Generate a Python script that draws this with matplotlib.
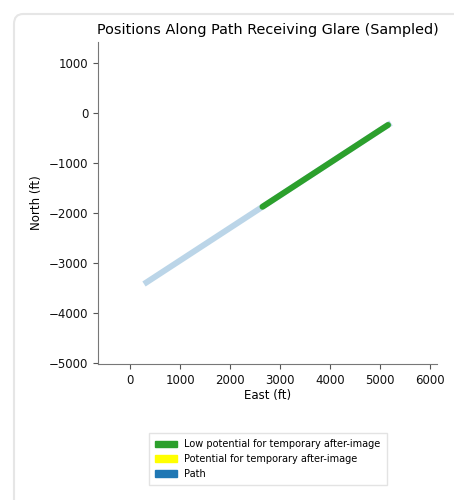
import matplotlib
matplotlib.use("Agg")
import matplotlib.pyplot as plt
from matplotlib.patches import Patch, FancyBboxPatch

# path end points (ft)
path_east = [280, 5220]
path_north = [-3420, -200]

# sampled positions receiving low-potential glare
low_east = [2650, 3000, 3500, 4000, 4500, 5000, 5160]
low_north = [-1875, -1647, -1321, -995, -669, -343, -240]

# no samples with potential for after-image
mid_east = []
mid_north = []

x_ticks = [0, 1000, 2000, 3000, 4000, 5000, 6000]
y_ticks = [1000, 0, -1000, -2000, -3000, -4000, -5000]

fig = plt.figure(figsize=(4.54, 5.0), dpi=100)

# card outline around the figure
card = FancyBboxPatch((14 / 454, -0.05), 1.0, 1.05 - 14 / 500,
                      boxstyle="round,pad=0,rounding_size=0.02",
                      transform=fig.transFigure, facecolor="white",
                      edgecolor="#e6e6e6", linewidth=1.5, zorder=-10)
fig.patches.append(card)

ax = fig.add_axes([98 / 454, 1 - 364 / 500, 339 / 454, 322 / 500])
ax.set_facecolor("none")

ax.plot(path_east, path_north, color="#1f77b4", alpha=0.3, lw=4.3,
        solid_capstyle="butt")
ax.plot(low_east, low_north, color="#2ca02c", lw=4.3, solid_capstyle="round")
if mid_east:
    ax.plot(mid_east, mid_north, color="yellow", lw=4.3)

ax.set_xlim(-640, 6140)
ax.set_ylim(-5020, 1420)
ax.set_xticks(x_ticks)
ax.set_yticks(y_ticks)
ax.tick_params(labelsize=8.5, colors="#111111", length=3.5)
ax.tick_params(axis="both", color="#555555")
for side in ["top", "right"]:
    ax.spines[side].set_visible(False)
for side in ["left", "bottom"]:
    ax.spines[side].set_color("#777777")

ax.set_xlabel("East (ft)", fontsize=8.5, labelpad=2)
ax.set_ylabel("North (ft)", fontsize=8.5)
ax.set_title("Positions Along Path Receiving Glare (Sampled)", fontsize=10.4, pad=6)

handles = [
    Patch(color="#2ca02c", label="Low potential for temporary after-image"),
    Patch(color="yellow", label="Potential for temporary after-image"),
    Patch(color="#1f77b4", label="Path"),
]
fig.legend(handles=handles, loc="center", bbox_to_anchor=(268 / 454, 1 - 459 / 500),
           fontsize=7, frameon=True, handlelength=2.2, handleheight=0.6,
           borderpad=0.6, labelspacing=0.5, fancybox=False, edgecolor="#dddddd")

fig.savefig("out.png", dpi=100)
